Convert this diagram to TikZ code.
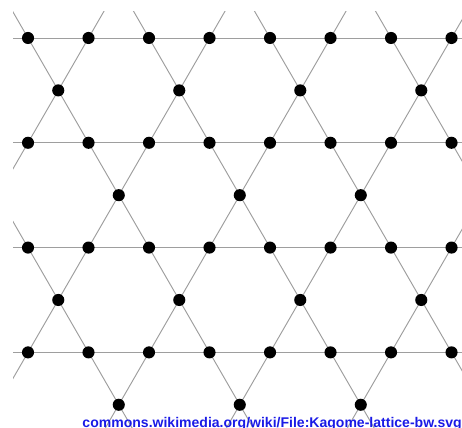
\documentclass[tikz,border=0pt]{standalone}
\usepackage{fontspec}
\setmainfont{Liberation Sans}
\definecolor{linkblue}{RGB}{26,26,230}
\tikzset{
  bond/.style={black!38, line width=0.45pt},
  site/.style={black},
}
\begin{document}
\begin{tikzpicture}[scale=1]
            \pgfmathsetmacro{\h}{sqrt(3)/2}
            \useasboundingbox (-0.463,0.628) rectangle (7.173,-6.446);

            \begin{scope}
            \clip (-0.248,0.43) rectangle (7.173,-6.446);
            % horizontal bonds
            \foreach \k in {0,...,3}
                \draw[bond] (-1,{-2*\k*\h}) -- (8,{-2*\k*\h});
            % diagonal bonds
            \foreach \m in {-4,...,5} {
                \draw[bond] ({2*\m-0.5},\h) -- ({2*\m+4},{-8*\h});
                \draw[bond] ({2*\m+1.5},\h) -- ({2*\m+1-4},{-8*\h});
            }
            \end{scope}

            % sites
            \foreach \k in {0,...,3}
                \foreach \i in {0,...,7}
                    \fill[site] (\i,{-2*\k*\h}) circle (0.1);
            \foreach \j in {0,...,3} {
                \fill[site] ({0.5+2*\j},{-\h}) circle (0.1);
                \fill[site] ({0.5+2*\j},{-5*\h}) circle (0.1);
            }
            \foreach \j in {0,...,2} {
                \fill[site] ({1.5+2*\j},{-3*\h}) circle (0.1);
                \fill[site] ({1.5+2*\j},{-7*\h}) circle (0.1);
            }

            \node[anchor=base west, inner sep=0pt, text=linkblue,
                  font=\fontsize{6.6}{7}\selectfont\bfseries] (url)
                at (0.893,-6.44) {commons.wikimedia.org/wiki/File:Kagome-lattice-bw.svg};
        \end{tikzpicture}
\end{document}
